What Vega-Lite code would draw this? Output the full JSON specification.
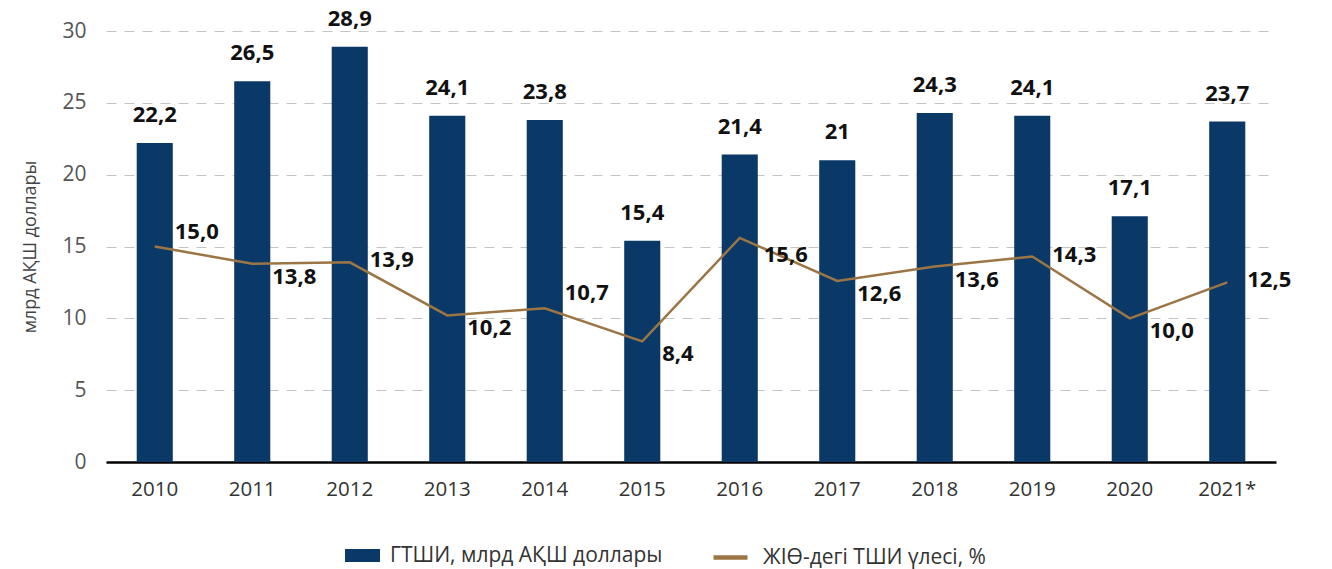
{
  "$schema": "https://vega.github.io/schema/vega-lite/v6.json",
  "width": 1170,
  "height": 431,
  "autosize": {"type": "none"},
  "padding": {"left": 106, "top": 31, "right": 56, "bottom": 107},
  "background": "white",
  "config": {
    "locale": {"number": {"decimal": ",", "thousands": " ", "grouping": [3], "currency": ["", ""]}},
    "font": "Open Sans",
    "view": {"stroke": null}
  },
  "data": {
    "values": [
      {"year": "2010", "fdi": 22.2, "share": 15.0},
      {"year": "2011", "fdi": 26.5, "share": 13.8},
      {"year": "2012", "fdi": 28.9, "share": 13.9},
      {"year": "2013", "fdi": 24.1, "share": 10.2},
      {"year": "2014", "fdi": 23.8, "share": 10.7},
      {"year": "2015", "fdi": 15.4, "share": 8.4},
      {"year": "2016", "fdi": 21.4, "share": 15.6},
      {"year": "2017", "fdi": 21, "share": 12.6},
      {"year": "2018", "fdi": 24.3, "share": 13.6},
      {"year": "2019", "fdi": 24.1, "share": 14.3},
      {"year": "2020", "fdi": 17.1, "share": 10.0},
      {"year": "2021*", "fdi": 23.7, "share": 12.5}
    ]
  },
  "encoding": {
    "x": {
      "field": "year", "type": "ordinal", "title": null,
      "scale": {"paddingInner": 0.63, "paddingOuter": 0.315},
      "axis": {
        "labelAngle": 0, "labelFont": "Open Sans", "labelFontSize": 20.5, "labelColor": "#333333",
        "labelPadding": 17, "ticks": false, "domainColor": "#000000", "domainWidth": 2.5
      }
    }
  },
  "layer": [
    {
      "mark": {"type": "bar", "color": "#0a3968"},
      "encoding": {
        "y": {
          "field": "fdi", "type": "quantitative", "title": "млрд АҚШ доллары",
          "scale": {"domain": [0, 30]},
          "axis": {
            "values": [0, 5, 10, 15, 20, 25, 30], "domain": false, "ticks": false,
            "labelFont": "Open Sans", "labelFontSize": 21, "labelColor": "#555555", "labelPadding": 20,
            "gridColor": "#c4c4c4", "gridDash": [10, 8], "gridWidth": 1,
            "titleFont": "Open Sans", "titleFontSize": 18, "titleFontWeight": "normal", "titleColor": "#444444",
            "titlePadding": 22
          }
        },
        "fill": {
          "datum": "ГТШИ, млрд АҚШ доллары",
          "scale": {"range": ["#0a3968"]},
          "legend": {
            "title": null, "orient": "none", "legendX": 239, "legendY": 507,
            "symbolType": "M-1,-0.37H1V0.37H-1Z", "symbolSize": 1225, "symbolStrokeWidth": 0,
            "labelFont": "Open Sans", "labelFontSize": 21, "labelColor": "#333333", "labelOffset": 10, "labelLimit": 400
          }
        }
      }
    },
    {
      "mark": {"type": "text", "font": "Open Sans", "fontSize": 22, "fontWeight": "bold", "color": "#111111", "baseline": "bottom", "dy": -16},
      "encoding": {
        "y": {"field": "fdi", "type": "quantitative", "title": "млрд АҚШ доллары"},
        "text": {"field": "fdi", "type": "quantitative", "format": ".1~f"}
      }
    },
    {
      "mark": {"type": "line", "color": "#9c7544", "strokeWidth": 2.5},
      "encoding": {
        "y": {"field": "share", "type": "quantitative", "title": "млрд АҚШ доллары"},
        "stroke": {
          "datum": "ЖІӨ-дегі ТШИ үлесі, %",
          "scale": {"range": ["#9c7544"]},
          "legend": {
            "title": null, "orient": "none", "legendX": 605, "legendY": 507,
            "symbolType": "stroke", "symbolSize": 1156, "symbolStrokeWidth": 4.5,
            "labelFont": "Open Sans", "labelFontSize": 21, "labelColor": "#333333", "labelOffset": 13, "labelLimit": 400
          }
        }
      }
    },
    {
      "transform": [{"filter": {"field": "year", "oneOf": ["2010", "2014"]}}],
      "mark": {"type": "text", "font": "Open Sans", "fontSize": 22, "fontWeight": "bold", "color": "#111111", "align": "left", "baseline": "middle", "dx": 20, "dy": -15},
      "encoding": {
        "y": {"field": "share", "type": "quantitative", "title": "млрд АҚШ доллары"},
        "text": {"field": "share", "type": "quantitative", "format": ".1f"}
      }
    },
    {
      "transform": [{"filter": {"field": "year", "oneOf": ["2012", "2019", "2021*"]}}],
      "mark": {"type": "text", "font": "Open Sans", "fontSize": 22, "fontWeight": "bold", "color": "#111111", "align": "left", "baseline": "middle", "dx": 20, "dy": -2},
      "encoding": {
        "y": {"field": "share", "type": "quantitative", "title": "млрд АҚШ доллары"},
        "text": {"field": "share", "type": "quantitative", "format": ".1f"}
      }
    },
    {
      "transform": [{"filter": {"field": "year", "oneOf": ["2011", "2013", "2015", "2017", "2018", "2020"]}}],
      "mark": {"type": "text", "font": "Open Sans", "fontSize": 22, "fontWeight": "bold", "color": "#111111", "align": "left", "baseline": "middle", "dx": 20, "dy": 13},
      "encoding": {
        "y": {"field": "share", "type": "quantitative", "title": "млрд АҚШ доллары"},
        "text": {"field": "share", "type": "quantitative", "format": ".1f"}
      }
    },
    {
      "transform": [{"filter": {"field": "year", "oneOf": ["2016"]}}],
      "mark": {"type": "text", "font": "Open Sans", "fontSize": 22, "fontWeight": "bold", "color": "#111111", "align": "left", "baseline": "middle", "dx": 24, "dy": 17},
      "encoding": {
        "y": {"field": "share", "type": "quantitative", "title": "млрд АҚШ доллары"},
        "text": {"field": "share", "type": "quantitative", "format": ".1f"}
      }
    }
  ]
}
